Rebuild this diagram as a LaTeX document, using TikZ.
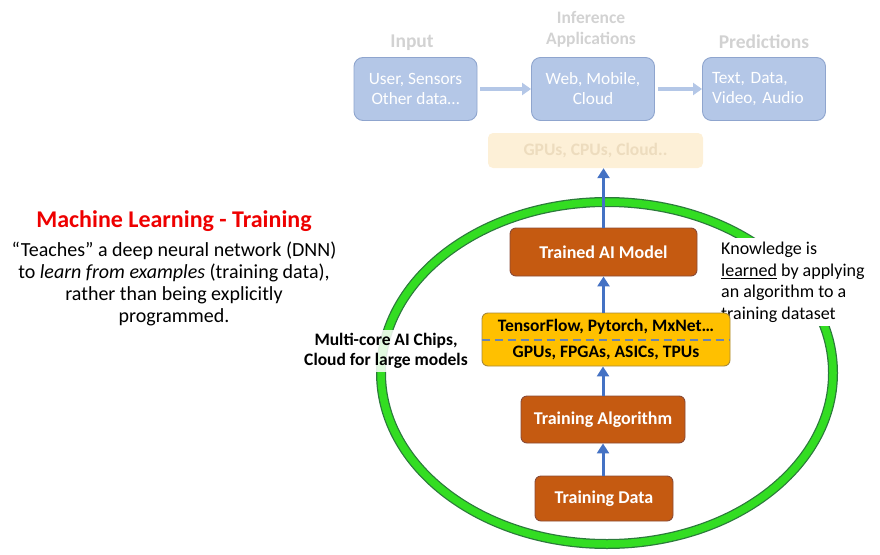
\documentclass[tikz,border=0pt]{standalone}
\usepackage{fontspec}
\setmainfont{Carlito}
\usetikzlibrary{arrows.meta}
\definecolor{brownfill}{HTML}{C55A11}
\definecolor{brownedge}{HTML}{8A4A35}
\definecolor{yellowfill}{HTML}{FFC000}
\definecolor{yellowedge}{HTML}{A88A3A}
\definecolor{arrowblue}{HTML}{4472C4}
\definecolor{fadeblue}{HTML}{B4C7E7}
\definecolor{fadeedge}{HTML}{8FA5CE}
\definecolor{fadelabel}{HTML}{D2D2D2}
\definecolor{fadeyellow}{HTML}{FDF0D7}
\definecolor{fadeyellowtext}{HTML}{EDDCBE}
\definecolor{ringdark}{HTML}{2B7A3B}
\definecolor{ringgreen}{HTML}{33DD22}
\definecolor{dashblue}{HTML}{6A84B2}
\definecolor{titlered}{HTML}{EE0000}
\tikzset{
  brownbox/.style={draw=brownedge, line width=0.9pt, fill=brownfill, rounded corners=6pt,
    text=white, font=\bfseries\fontsize{18}{21}\selectfont, inner sep=0pt},
  fadebox/.style={draw=fadeedge, line width=0.9pt, fill=fadeblue, rounded corners=9pt,
    text=white, font=\fontsize{17.3}{20}\selectfont, inner sep=0pt,
    minimum width=123pt, minimum height=63pt},
  fadelbl/.style={text=fadelabel, font=\bfseries\fontsize{19.5}{21}\selectfont, inner sep=0pt},
  barrow/.style={draw=arrowblue, line width=3pt, -{Triangle[length=10pt,width=12pt]}},
  farrow/.style={draw=fadeblue, line width=4pt, -{Triangle[length=9pt,width=12pt]}},
}
\begin{document}
\begin{tikzpicture}[x=1pt,y=-1pt]
\useasboundingbox (0,0) rectangle (880,554);

% green ring
\draw[ringdark, line width=10pt] (607,373) ellipse [x radius=226pt, y radius=171pt];
\draw[ringgreen, line width=7.5pt] (607,373) ellipse [x radius=226pt, y radius=171pt];

% top faded row
\node[fadelbl] (lin) at (412,43) {Input};
\node[fadelbl, align=center, font=\bfseries\fontsize{17.5}{21}\selectfont] (linf) at (591,29) {Inference\\Applications};
\node[fadelbl] (lpred) at (764,42) {Predictions};

\node[fadebox, align=center] (inp) at (415.5,89) {User, Sensors\\Other data…};
\node[fadebox, align=center] (inf) at (593,89) {Web, Mobile,\\Cloud};
\node[fadebox, align=left, text width=104pt] (pred) at (764,89) {Text, Data,\\Video, Audio};

\draw[farrow, shorten <=3pt] (inp.east) -- (inf.west);
\draw[farrow, shorten <=3pt] (inf.east) -- (pred.west);

\node[fill=fadeyellow, rounded corners=5pt, minimum width=215pt, minimum height=35pt, inner sep=0pt,
  text=fadeyellowtext, font=\bfseries\fontsize{17.5}{19}\selectfont] (gpu) at (595.5,150.5) {GPUs, CPUs, Cloud..};

% left text
\node[font=\bfseries\fontsize{24}{26}\selectfont, text=titlered, anchor=base, inner sep=0pt] (title) at (174,227) {Machine Learning - Training};
\node[font=\fontsize{20}{22}\selectfont, align=center, anchor=north, inner sep=0pt] (desc) at (174,242)
  {“Teaches” a deep neural network (DNN)\\to \textit{learn from examples} (training data),\\rather than being explicitly\\programmed.};

% side texts
\node[font=\fontsize{18}{21.5}\selectfont, align=left, anchor=north west, fill=white, inner sep=4pt] (know) at (717,238)
  {Knowledge is\\\underline{learned} by applying\\an algorithm to a\\training dataset};
\node[font=\bfseries\fontsize{17.5}{20}\selectfont, align=center, fill=white, fill opacity=0.85, text opacity=1, inner sep=3pt] (chips) at (386,351)
  {Multi-core AI Chips,\\Cloud for large models};

% training pipeline
\node[brownbox, minimum width=187pt, minimum height=48pt] (tam) at (603.5,252) {Trained AI Model};
\node[draw=yellowedge, line width=0.9pt, fill=yellowfill, rounded corners=6pt, minimum width=248pt, minimum height=53pt,
  inner sep=0pt, align=center, font=\bfseries\fontsize{17.5}{26}\selectfont] (yb) at (606,339.5)
  {TensorFlow, Pytorch, MxNet…\\GPUs, FPGAs, ASICs, TPUs};
\draw[dashblue, line width=2pt, dash pattern=on 8pt off 5pt] (yb.west) -- (yb.east);
\node[brownbox, minimum width=164pt, minimum height=47pt] (ta) at (603,419.5) {Training Algorithm};
\node[brownbox, minimum width=138pt, minimum height=45pt] (td) at (604,498.5) {Training Data};

\draw[barrow] (td.north -| ta.south) -- (ta.south);
\draw[barrow] (ta.north) -- (yb.south -| ta.north);
\draw[barrow] (yb.north -| tam.south) -- (tam.south);
\draw[barrow] (tam.north) -- (gpu.south -| tam.north);
\end{tikzpicture}
\end{document}
